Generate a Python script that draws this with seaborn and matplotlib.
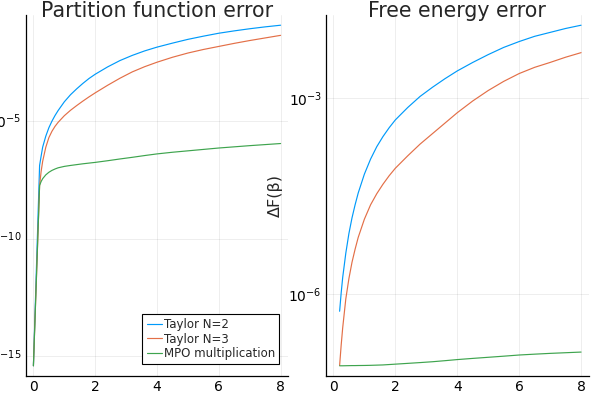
import numpy as np
import pandas as pd
import matplotlib
matplotlib.use("Agg")
import matplotlib.pyplot as plt
import seaborn as sns
from matplotlib.ticker import FixedLocator, LogFormatterMathtext, NullLocator

# ----------------------------
# data (log10 of the errors)
# ----------------------------
labels = ["Taylor N=2", "Taylor N=3", "MPO multiplication"]
colors = ["#009AFA", "#E36F47", "#3EA44E"]

beta_z = [0, 0.2, 0.25, 0.3, 0.4, 0.5, 0.6, 0.7, 0.8, 1.0, 1.2, 1.4, 1.6, 1.8, 2.0,
          2.4, 2.8, 3.2, 3.6, 4.0, 4.5, 5.0, 5.5, 6.0, 6.5, 7.0, 7.5, 8.0]
z_taylor2 = [-15.4, -6.9, -6.5, -6.12, -5.66, -5.3, -5.02, -4.78, -4.57, -4.2, -3.9, -3.65,
             -3.42, -3.21, -3.03, -2.72, -2.45, -2.23, -2.04, -1.88, -1.71, -1.55, -1.415,
             -1.29, -1.19, -1.1, -1.02, -0.95]
z_taylor3 = [-15.4, -7.75, -7.15, -6.72, -6.13, -5.72, -5.45, -5.24, -5.07, -4.79, -4.56,
             -4.36, -4.17, -3.99, -3.82, -3.5, -3.2, -2.93, -2.71, -2.52, -2.31, -2.13,
             -1.98, -1.85, -1.72, -1.6, -1.49, -1.38]
z_mpo = [-15.4, -7.75, -7.58, -7.46, -7.3, -7.19, -7.11, -7.05, -7.0, -6.94, -6.9, -6.865,
         -6.83, -6.8, -6.77, -6.7, -6.625, -6.555, -6.48, -6.41, -6.34, -6.28, -6.22,
         -6.16, -6.11, -6.06, -6.015, -5.97]

beta_f = [0.2, 0.25, 0.3, 0.4, 0.5, 0.6, 0.7, 0.8, 1.0, 1.2, 1.4, 1.6, 1.8, 2.0,
          2.4, 2.8, 3.2, 3.6, 4.0, 4.5, 5.0, 5.5, 6.0, 6.5, 7.0, 7.5, 8.0]
f_taylor2 = [-6.26, -5.98, -5.74, -5.37, -5.07, -4.83, -4.63, -4.45, -4.16, -3.93, -3.74,
             -3.585, -3.45, -3.33, -3.14, -2.97, -2.83, -2.7, -2.58, -2.45, -2.33, -2.22,
             -2.13, -2.05, -1.99, -1.93, -1.88]
f_taylor3 = [-7.09, -6.78, -6.51, -6.07, -5.76, -5.51, -5.31, -5.13, -4.85, -4.63, -4.46,
             -4.315, -4.185, -4.07, -3.88, -3.7, -3.54, -3.38, -3.22, -3.04, -2.88, -2.74,
             -2.62, -2.525, -2.45, -2.37, -2.3]
f_mpo = [-7.095, -7.095, -7.095, -7.094, -7.093, -7.092, -7.092, -7.091, -7.09, -7.088,
         -7.085, -7.082, -7.076, -7.07, -7.058, -7.046, -7.033, -7.017, -7.0, -6.982,
         -6.965, -6.948, -6.93, -6.917, -6.905, -6.895, -6.885]


def long_df(beta, series):
    frames = []
    for name, vals in zip(labels, series):
        frames.append(pd.DataFrame({"beta": beta, "err": 10.0 ** np.array(vals), "method": name}))
    return pd.concat(frames, ignore_index=True)


df_z = long_df(beta_z, [z_taylor2, z_taylor3, z_mpo])
df_f = long_df(beta_f, [f_taylor2, f_taylor3, f_mpo])

# ----------------------------
# plot
# ----------------------------
sns.set_style("white")
plt.rcParams["font.family"] = ["DejaVu Sans"]

fig = plt.figure(figsize=(6, 4), dpi=100)
ax1 = fig.add_axes([26 / 600, 24 / 400, 262 / 600, 361 / 400])
ax2 = fig.add_axes([326 / 600, 24 / 400, 262.5 / 600, 361 / 400])

palette = dict(zip(labels, colors))

for ax, df, title, ticks in [
    (ax1, df_z, "Partition function error", [1e-15, 1e-10, 1e-5]),
    (ax2, df_f, "Free energy error", [1e-6, 1e-3]),
]:
    sns.lineplot(data=df, x="beta", y="err", hue="method", palette=palette,
                 errorbar=None, linewidth=0.85, ax=ax, legend=(ax is ax1))
    ax.set_yscale("log")
    lo, hi = np.log10(df["err"].min()), np.log10(df["err"].max())
    pad = 0.03 * (hi - lo)
    ax.set_ylim(10 ** (lo - pad), 10 ** (hi + pad))
    ax.set_xlim(-0.24, 8.24)
    ax.set_xticks([0, 2, 4, 6, 8])
    ax.yaxis.set_major_locator(FixedLocator(ticks))
    ax.yaxis.set_major_formatter(LogFormatterMathtext())
    ax.yaxis.set_minor_locator(NullLocator())
    ax.set_xlabel("")
    ax.set_ylabel("")
    ax.set_title(title, fontsize=14.8, pad=-1.5)
    for side in ["top", "right"]:
        ax.spines[side].set_visible(False)
    for side in ["left", "bottom"]:
        ax.spines[side].set_color("black")
        ax.spines[side].set_linewidth(0.9)
    ax.tick_params(direction="in", length=4, width=0.8, labelsize=10, colors="black", pad=3)
    ax.grid(True, color="black", alpha=0.08, linewidth=0.6)

ax2.set_ylabel("ΔF(β)", fontsize=11.5)
ax2.yaxis.set_label_coords(-0.164, 0.5)

leg = ax1.legend(loc="lower right", bbox_to_anchor=(0.966, 0.033), borderaxespad=0,
                 fontsize=8.5, frameon=True, fancybox=False, edgecolor="black",
                 framealpha=1, handlelength=1.3, handletextpad=0.15, borderpad=0.35,
                 labelspacing=0.12, title=None)
leg.get_frame().set_linewidth(0.8)

fig.savefig("out.png", dpi=100)
